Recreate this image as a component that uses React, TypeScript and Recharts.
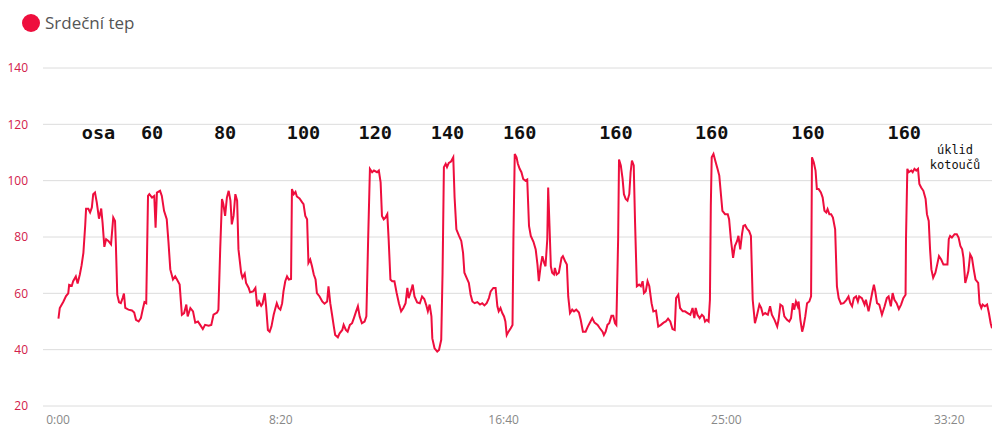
import React from "react";
import { LineChart, Line, XAxis, YAxis, CartesianGrid, ReferenceDot } from "recharts";

const seriesName = "Srdeční tep";

const seconds = [
  1, 4, 12, 18, 23, 25, 31, 34, 40, 44, 49, 53, 57, 61, 63, 68, 72, 76, 79, 83, 87, 92, 97, 100, 104, 108, 113, 119, 124, 128,
  130, 133, 137, 141, 145, 148, 151, 158, 166, 171, 175, 181, 186, 190, 194, 198, 202, 205, 211, 216, 219, 222, 229, 233, 238, 244, 248, 252, 258, 263,
  267, 273, 278, 283, 288, 291, 297, 303, 308, 314, 319, 325, 330, 338, 344, 349, 357, 360, 364, 368, 371, 375, 379, 383, 387, 390, 394, 398, 402, 405,
  411, 414, 419, 422, 428, 431, 438, 443, 447, 451, 456, 459, 464, 467, 471, 475, 479, 484, 488, 491, 495, 499, 503, 506, 510, 514, 518, 523, 525, 529,
  533, 536, 542, 548, 551, 555, 559, 562, 566, 570, 574, 578, 581, 587, 593, 598, 604, 607, 611, 615, 619, 622, 628, 632, 638, 641, 646, 650, 655, 660,
  664, 669, 673, 677, 682, 688, 692, 696, 700, 705, 709, 716, 720, 724, 727, 731, 735, 739, 742, 746, 750, 755, 760, 765, 770, 775, 780, 784, 787, 793,
  796, 800, 806, 812, 817, 822, 826, 830, 834, 838, 840, 845, 851, 855, 860, 863, 866, 870, 873, 877, 882, 887, 890, 894, 900, 905, 909, 912, 917, 922,
  926, 930, 935, 941, 947, 952, 957, 962, 967, 971, 977, 982, 986, 989, 993, 997, 1001, 1004, 1007, 1011, 1016, 1020, 1022, 1025, 1029, 1032, 1036, 1040, 1044, 1049,
  1053, 1057, 1061, 1067, 1072, 1076, 1079, 1083, 1087, 1091, 1094, 1098, 1100, 1103, 1106, 1109, 1113, 1115, 1119, 1124, 1130, 1133, 1138, 1142, 1145, 1149, 1154, 1158, 1163, 1169,
  1173, 1178, 1184, 1189, 1195, 1199, 1204, 1211, 1216, 1222, 1225, 1229, 1233, 1237, 1242, 1246, 1250, 1253, 1257, 1259, 1263, 1267, 1270, 1274, 1278, 1282, 1285, 1288, 1292, 1295,
  1299, 1304, 1308, 1312, 1315, 1319, 1323, 1327, 1332, 1336, 1342, 1347, 1353, 1359, 1364, 1369, 1374, 1379, 1384, 1387, 1392, 1396, 1402, 1407, 1413, 1419, 1424, 1428, 1431, 1435,
  1440, 1445, 1449, 1452, 1456, 1460, 1463, 1465, 1467, 1471, 1475, 1480, 1484, 1488, 1491, 1497, 1503, 1506, 1510, 1515, 1519, 1524, 1527, 1531, 1535, 1538, 1542, 1546, 1551, 1555,
  1559, 1564, 1568, 1574, 1578, 1582, 1587, 1593, 1598, 1602, 1608, 1614, 1617, 1621, 1626, 1630, 1636, 1641, 1645, 1649, 1652, 1656, 1660, 1662, 1666, 1670, 1673, 1677, 1681, 1686,
  1690, 1692, 1696, 1700, 1703, 1707, 1712, 1716, 1720, 1724, 1727, 1731, 1735, 1739, 1744, 1748, 1752, 1757, 1763, 1769, 1774, 1778, 1782, 1786, 1791, 1795, 1798, 1804, 1810, 1813,
  1819, 1822, 1827, 1831, 1834, 1838, 1843, 1849, 1855, 1860, 1864, 1869, 1873, 1877, 1882, 1887, 1892, 1897, 1902, 1903, 1906, 1909, 1915, 1918, 1922, 1926, 1930, 1933, 1937, 1942,
  1947, 1950, 1954, 1957, 1960, 1964, 1969, 1973, 1977, 1982, 1987, 1991, 1996, 1999, 2002, 2006, 2012, 2017, 2021, 2025, 2029, 2032, 2036, 2040, 2043, 2047, 2051, 2055, 2059, 2065,
  2068, 2072, 2075, 2080, 2085, 2089, 2093, 2096,
];

const heartRate = [
  51, 54.8, 57, 59, 60, 63, 62.7, 64.3, 66, 63.5, 66.7, 70, 74.4, 84, 90, 90, 88.7, 90.5, 95.2, 95.8, 92.3, 86.5, 90.1, 85.1, 76.5, 79.2, 78.6, 77.4, 86.9, 85.7,
  76.8, 59.5, 56.8, 56.5, 58.3, 59.9, 54.8, 54.2, 53.9, 53.2, 50.6, 50, 51.2, 54.2, 56.9, 56.5, 94.6, 95.2, 94, 94.6, 83.3, 95.8, 96.4, 94.6, 89.3, 86.3, 78, 68.5, 64.9, 66,
  64.9, 63.1, 52.4, 53, 56, 51.8, 54.8, 53.6, 49.6, 50, 48.8, 47.3, 48.8, 48.5, 48.8, 52.4, 53.2, 54.2, 75.6, 93.5, 91.7, 87.5, 94, 96.4, 92.9, 84.5, 87.5, 95.2, 92.9, 75.6,
  67.3, 65.5, 67, 63.7, 61.9, 60.4, 60.7, 61.9, 55.4, 57.1, 55.6, 56.3, 60.1, 55.4, 47, 46.4, 48.2, 52.4, 54.8, 56.5, 54.8, 54.2, 56.5, 60.7, 64.3, 66, 64.9, 65.1, 97, 95.2,
  96, 94.4, 93.7, 92.3, 91.7, 87.5, 86.3, 70.8, 72, 69.6, 66.7, 64.9, 60.1, 58.9, 57.1, 56.3, 57.1, 62.5, 56.5, 52.4, 48.2, 45.2, 44.4, 45.8, 47, 48.8, 47, 46.4, 48.8, 49.4,
  51.2, 53.6, 55.4, 51.8, 49.4, 50, 51.8, 79.2, 104.2, 103, 103.6, 103, 103.6, 99.4, 87.5, 86.3, 86.9, 88.1, 79.2, 64.9, 64.3, 64.3, 60.1, 56.5, 53.6, 54.8, 56.5, 61.9, 58.3, 61.3,
  63.1, 58.9, 56.8, 56.5, 58.9, 58, 56, 53.6, 56, 51.8, 44, 40.5, 39.3, 39.9, 43.5, 67.3, 104.8, 106, 104.8, 106.3, 106.8, 108.3, 94, 82.7, 80.4, 78.6, 74.4, 67.3, 65.5, 63.7,
  59.5, 57.1, 56.5, 56.9, 56, 56.5, 55.7, 56.5, 58.3, 60.7, 61.9, 61.9, 55.4, 53.6, 54.8, 53, 51.8, 50, 45.2, 46.4, 47.6, 48.8, 79.2, 109.5, 108.3, 106, 104.2, 103, 100.6, 100,
  100.4, 83.9, 80.4, 78.3, 75.6, 70.2, 64.3, 69.6, 73.2, 70.8, 69.6, 79.2, 97.6, 83.9, 69.6, 67.3, 66.7, 69, 66.7, 67.3, 72.6, 73.2, 71.4, 70.2, 58.9, 53, 54.2, 53.6, 54.2, 53.2,
  50.6, 46.4, 46.4, 48.2, 50, 51.2, 49.6, 48.8, 47.6, 46.4, 45.2, 46.4, 48.8, 49.4, 52, 52, 49.4, 48.8, 79.2, 107.5, 105.4, 100.6, 95.2, 93.5, 92.9, 95.2, 103, 107.1, 105.4, 85.1,
  62.5, 63.1, 62.5, 64.3, 60.1, 60.7, 64.3, 62.5, 56.5, 53.6, 53.9, 48.2, 48.8, 49.6, 50, 51, 50, 47.3, 47, 58.3, 59.5, 54.8, 53.6, 53.6, 53, 52.4, 54.8, 51.2, 54.8, 52.4,
  51.2, 52.4, 51.8, 50, 50.6, 50, 57.7, 91.1, 108.3, 109.5, 107.1, 104.2, 101.8, 94.6, 89.3, 88.1, 88.1, 86.3, 79.2, 72.6, 76.8, 78.6, 80.4, 75.6, 81, 83.9, 84.2, 83, 82.1, 80.4,
  57.7, 49.4, 51.8, 56, 54.8, 52.4, 53, 52.4, 55.4, 52.4, 50.6, 48.2, 50.6, 56, 55.4, 51.8, 50.6, 50, 51.2, 56.5, 54.2, 57.1, 55.4, 57.1, 50.6, 46.4, 48.2, 51.8, 56.5, 57.1,
  58.9, 108.3, 106.5, 103.6, 97, 97, 95.8, 94, 89.3, 88.7, 89.9, 88.1, 88.1, 86.9, 82.7, 62.5, 58.3, 56.3, 56.5, 57.6, 58.9, 56.5, 55.4, 58.3, 58.9, 57.1, 58.9, 58.3, 56, 57.7,
  53.6, 56, 60.1, 63.1, 60.7, 56.5, 56, 52.4, 55.4, 58.3, 58.9, 55.4, 60.1, 57.7, 56.5, 54.4, 56, 58.3, 59.5, 79.2, 104.2, 103, 103.6, 103, 104.2, 103.6, 104.2, 98.8, 97.6, 96.4,
  93.5, 88.1, 85.7, 75.6, 68.5, 65.5, 67.3, 70.2, 73.2, 72, 70.2, 70.2, 70.2, 79.2, 80.4, 79.8, 81, 81, 79.8, 76.8, 75.6, 72.6, 63.7, 66, 67.9, 73.8, 72.6, 68.5, 64.9, 63.7,
  56.5, 54.8, 56, 55.4, 56, 53, 49.4, 47.6,
];

const yTicks = [20, 40, 60, 80, 100, 120, 140];
const xTicks = [0, 500, 1000, 1500, 2000];

const noteLabels = ["osa", "60", "80", "100", "120", "140", "160", "160", "160", "160", "160"];
const noteSeconds = [91, 211, 375, 551, 712, 874, 1036, 1252, 1467, 1683, 1899];
const noteValue = 114.9;

const cleanupLines = ["úklid", "kotoučů"];
const cleanupSecond = 2013;
const cleanupValues = [109.6, 104.2];

const data = seconds.map((t, i) => ({ t, hr: heartRate[i] }));

const RED = "#ee0e3d";

const fmtTime = (v: number) => {
  const m = Math.floor(v / 60);
  const s = Math.round(v % 60);
  return `${m}:${s < 10 ? "0" + s : s}`;
};

const makeText = (text: string, size: number, bold: boolean) => (props: any) => (
  <text
    x={props.cx}
    y={props.cy}
    textAnchor="middle"
    fontFamily="'DejaVu Sans Mono', 'Liberation Mono', monospace"
    fontSize={size}
    fontWeight={bold ? 700 : 400}
    fill="#111"
  >
    {text}
  </text>
);

export default function App() {
  return (
    <div style={{ position: "absolute", left: 0, top: 0, width: 992, height: 439, background: "#fff" }}>
      <div
        style={{
          position: "absolute",
          left: 22,
          top: 11,
          display: "flex",
          alignItems: "center",
          fontFamily: "'Open Sans', sans-serif",
          fontSize: 17,
          color: "#555",
        }}
      >
        <span
          style={{ display: "inline-block", width: 18, height: 18, borderRadius: 9, background: RED, marginRight: 5 }}
        />
        <span>{seriesName}</span>
      </div>
      <LineChart width={992} height={439} data={data} margin={{ top: 68, right: 0, bottom: 0, left: 0 }}>
        <CartesianGrid vertical={false} stroke="#dcdcdc" strokeWidth={1} />
        <XAxis
          dataKey="t"
          type="number"
          domain={[0, 2096]}
          ticks={xTicks}
          tickFormatter={fmtTime}
          padding={{ left: 15, right: 0 }}
          axisLine={false}
          tickLine={false}
          tickSize={0}
          tickMargin={9}
          height={33}
          tick={{ fill: "#888", fontSize: 12, fontFamily: "'Open Sans', sans-serif" }}
        />
        <YAxis
          type="number"
          domain={[20, 140]}
          ticks={yTicks}
          axisLine={false}
          tickLine={false}
          tickSize={0}
          tickMargin={15}
          width={43}
          tick={{ fill: "#d2204a", fontSize: 12, fontFamily: "'Open Sans', sans-serif" }}
        />
        <Line
          type="linear"
          dataKey="hr"
          name={seriesName}
          stroke={RED}
          strokeWidth={2}
          dot={false}
          isAnimationActive={false}
        />
        {noteLabels.map((lab, i) => (
          <ReferenceDot
            key={"n" + i}
            x={noteSeconds[i]}
            y={noteValue}
            r={0}
            ifOverflow="visible"
            shape={makeText(lab, 18.5, true)}
          />
        ))}
        {cleanupLines.map((lab, i) => (
          <ReferenceDot
            key={"c" + i}
            x={cleanupSecond}
            y={cleanupValues[i]}
            r={0}
            ifOverflow="visible"
            shape={makeText(lab, 12, false)}
          />
        ))}
      </LineChart>
    </div>
  );
}
